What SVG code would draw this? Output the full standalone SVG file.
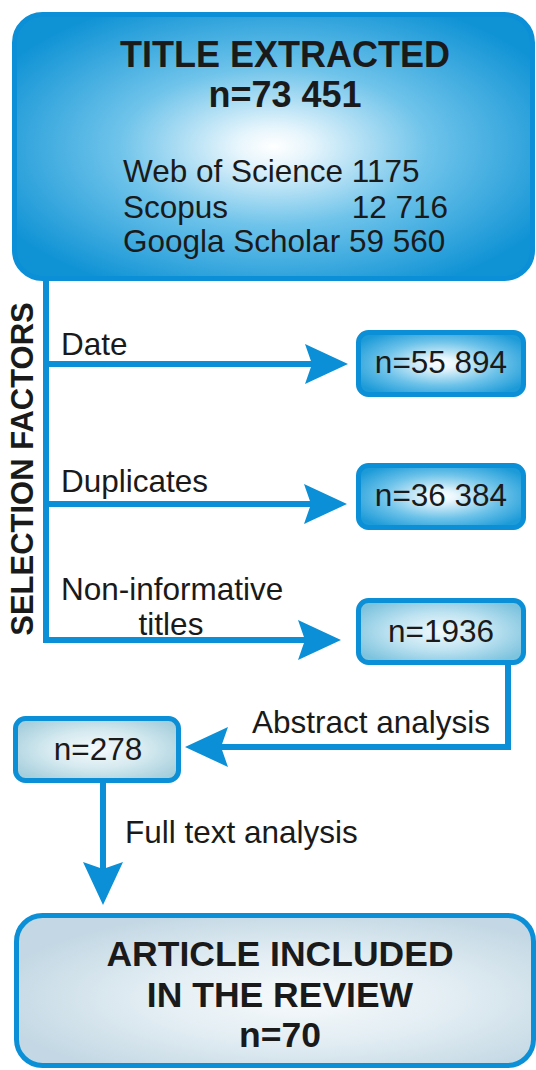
<svg xmlns="http://www.w3.org/2000/svg" width="536" height="1070" viewBox="0 0 536 1070">
  <defs>
    <radialGradient id="gTop" cx="0.5" cy="0.5" r="0.6">
      <stop offset="0" stop-color="#ffffff"/>
      <stop offset="0.12" stop-color="#e6f5fc"/>
      <stop offset="0.5" stop-color="#6ec3ea"/>
      <stop offset="1" stop-color="#1093d5"/>
    </radialGradient>
    <radialGradient id="gBlue" cx="0.5" cy="0.5" r="0.6">
      <stop offset="0" stop-color="#ffffff"/>
      <stop offset="0.15" stop-color="#e8f6fc"/>
      <stop offset="0.6" stop-color="#6cc2e9"/>
      <stop offset="1" stop-color="#1c9bd8"/>
    </radialGradient>
    <radialGradient id="gLight" cx="0.5" cy="0.5" r="0.6">
      <stop offset="0" stop-color="#f2fafd"/>
      <stop offset="0.5" stop-color="#bfe3f1"/>
      <stop offset="1" stop-color="#7cc3de"/>
    </radialGradient>
    <radialGradient id="gPale" cx="0.5" cy="0.5" r="0.6">
      <stop offset="0" stop-color="#f5fafc"/>
      <stop offset="0.5" stop-color="#d6eaf0"/>
      <stop offset="1" stop-color="#a6cfdd"/>
    </radialGradient>
    <radialGradient id="gGrey" cx="0.55" cy="0.55" r="0.6">
      <stop offset="0" stop-color="#f7fafc"/>
      <stop offset="0.5" stop-color="#e2edf3"/>
      <stop offset="1" stop-color="#c3d8e4"/>
    </radialGradient>
    <marker id="arrow" markerUnits="userSpaceOnUse" viewBox="0 0 43 40" markerWidth="43" markerHeight="40" refX="8" refY="20" orient="auto">
      <path d="M0,0 L43,20 L0,40 L7,20 Z" fill="#0b8fd6"/>
    </marker>
    <style>
      .box { stroke: #0b8fd6; stroke-width: 5; }
      .conn { fill: none; stroke: #0b8fd6; stroke-width: 6; stroke-linejoin: miter; }
      .t { font-family: "Liberation Sans", Arial, sans-serif; fill: #1a1a1a; }
      .b { font-weight: bold; font-size: 36px; }
      .r { font-size: 31.5px; }
      .m { text-anchor: middle; }
    </style>
  </defs>

  <g id="connectors">
    <path class="conn" d="M46,280 V640 H306" marker-end="url(#arrow)"/>
    <path class="conn" d="M43,364 H313" marker-end="url(#arrow)"/>
    <path class="conn" d="M43,504 H312" marker-end="url(#arrow)"/>
    <path class="conn" d="M508,660 V747 H220" marker-end="url(#arrow)"/>
    <path class="conn" d="M103,780 V870" marker-end="url(#arrow)"/>
  </g>

  <g id="labels">
    <text class="t r" x="61" y="355">Date</text>
    <text class="t r" x="61" y="492">Duplicates</text>
    <text class="t r" x="61" y="600">Non-informative</text>
    <text class="t r m" x="171" y="635">titles</text>
    <text class="t r" x="252" y="733">Abstract analysis</text>
    <text class="t r" x="125" y="843">Full text analysis</text>
    <text class="t b m" transform="translate(33,469) rotate(-90)" x="0" y="0" style="font-size:31px">SELECTION FACTORS</text>
  </g>

  <g id="node-title">
    <rect class="box" x="14.5" y="14.5" width="518" height="264" rx="28" fill="url(#gTop)"/>
    <text class="t b m" x="285" y="67">TITLE EXTRACTED</text>
    <text class="t b m" x="285" y="107">n=73 451</text>
    <text class="t r" x="123" y="182">Web of Science 1175</text>
    <text class="t r" x="123" y="218">Scopus</text>
    <text class="t r" x="448" y="218" text-anchor="end">12 716</text>
    <text class="t r" x="123" y="252">Googla Scholar 59 560</text>
  </g>

  <g id="node-date">
    <rect class="box" x="358.5" y="332.5" width="165" height="62" rx="10" fill="url(#gBlue)"/>
    <text class="t r m" x="441" y="373">n=55 894</text>
  </g>

  <g id="node-duplicates">
    <rect class="box" x="358.5" y="465.5" width="165" height="62" rx="10" fill="url(#gBlue)"/>
    <text class="t r m" x="441" y="506">n=36 384</text>
  </g>

  <g id="node-titles">
    <rect class="box" x="358.5" y="600.5" width="165" height="62" rx="10" fill="url(#gLight)"/>
    <text class="t r m" x="441" y="642">n=1936</text>
  </g>

  <g id="node-abstract">
    <rect class="box" x="15.5" y="718.5" width="163" height="62" rx="10" fill="url(#gPale)"/>
    <text class="t r m" x="98" y="760">n=278</text>
  </g>

  <g id="node-included">
    <rect class="box" x="16.5" y="915.5" width="517" height="150" rx="26" fill="url(#gGrey)"/>
    <text class="t b m" x="280" y="966" style="font-size:35.5px">ARTICLE INCLUDED</text>
    <text class="t b m" x="280" y="1007" style="font-size:35.5px">IN THE REVIEW</text>
    <text class="t b m" x="280" y="1047" style="font-size:35.5px">n=70</text>
  </g>
</svg>
